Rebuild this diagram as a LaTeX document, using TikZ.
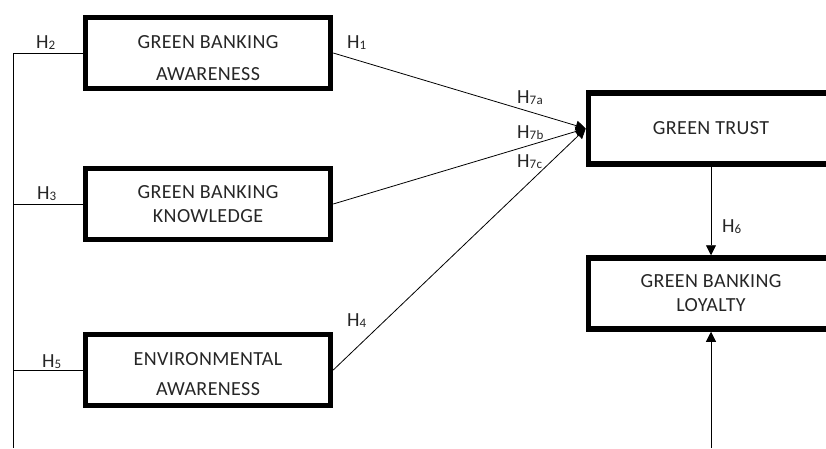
\documentclass[tikz,border=0pt]{standalone}
\usepackage{fontspec}
\setmainfont{Carlito}[LetterSpace=2]
\usetikzlibrary{arrows.meta}
\newcommand\hyp[1]{H\raisebox{-1pt}{\fontsize{13}{13}\selectfont #1}}
\begin{document}
\begin{tikzpicture}[x=1pt,y=-1pt,font=\fontsize{20}{24}\selectfont,
  box/.style={draw,line width=5.5pt,minimum width=245pt,minimum height=71pt,align=center,inner sep=0pt,text=black!85},
  link/.style={line width=0.8pt},
  lab/.style={anchor=base west,inner sep=0pt,text=black!85},
  >={Triangle[length=10pt,width=10pt]}]
\useasboundingbox (0,0) rectangle (826,448);
\clip (0,0) rectangle (826,448);
% constructs
\node[box] (aware) at (208,53) {\rule{0pt}{24pt}GREEN BANKING\\[8pt]AWARENESS};
\node[box] (know) at (208,204) {GREEN BANKING\\KNOWLEDGE};
\node[box] (env) at (208,370) {\rule{0pt}{22pt}ENVIRONMENTAL\\[6pt]AWARENESS};
\node[box] (trust) at (711,128.5) {GREEN TRUST};
\node[box] (loyal) at (711,293.5) {GREEN BANKING\\LOYALTY};
% left rail
\coordinate (top) at (13,53);
\coordinate (bot) at (13,448);
\draw[link] (aware.west) -- (top) -- (bot);
\draw[link] (know.west) -- (know.west -| bot);
\draw[link] (env.west) -- (env.west -| bot);
% paths to trust
\draw[link,->] (aware.east) -- (trust.west);
\draw[link,->] (know.east) -- (trust.west);
\draw[link,->] (env.east) -- (trust.west);
\draw[link,->] (trust.south) -- (loyal.north);
\coordinate (feed) at (711,448);
\draw[link,->] (feed) -- (loyal.south);
% hypotheses
\node[lab] (h2) at (36,48) {\hyp{2}};
\node[lab] (h3) at (37,199) {\hyp{3}};
\node[lab] (h5) at (42,367) {\hyp{5}};
\node[lab] (h1) at (347,48) {\hyp{1}};
\node[lab] (h4) at (347,326) {\hyp{4}};
\node[lab] (h7a) at (517,103) {\hyp{7a}};
\node[lab] (h7b) at (517,138) {\hyp{7b}};
\node[lab] (h7c) at (517,167) {\hyp{7c}};
\node[lab] (h6) at (722,232) {\hyp{6}};
\end{tikzpicture}
\end{document}
